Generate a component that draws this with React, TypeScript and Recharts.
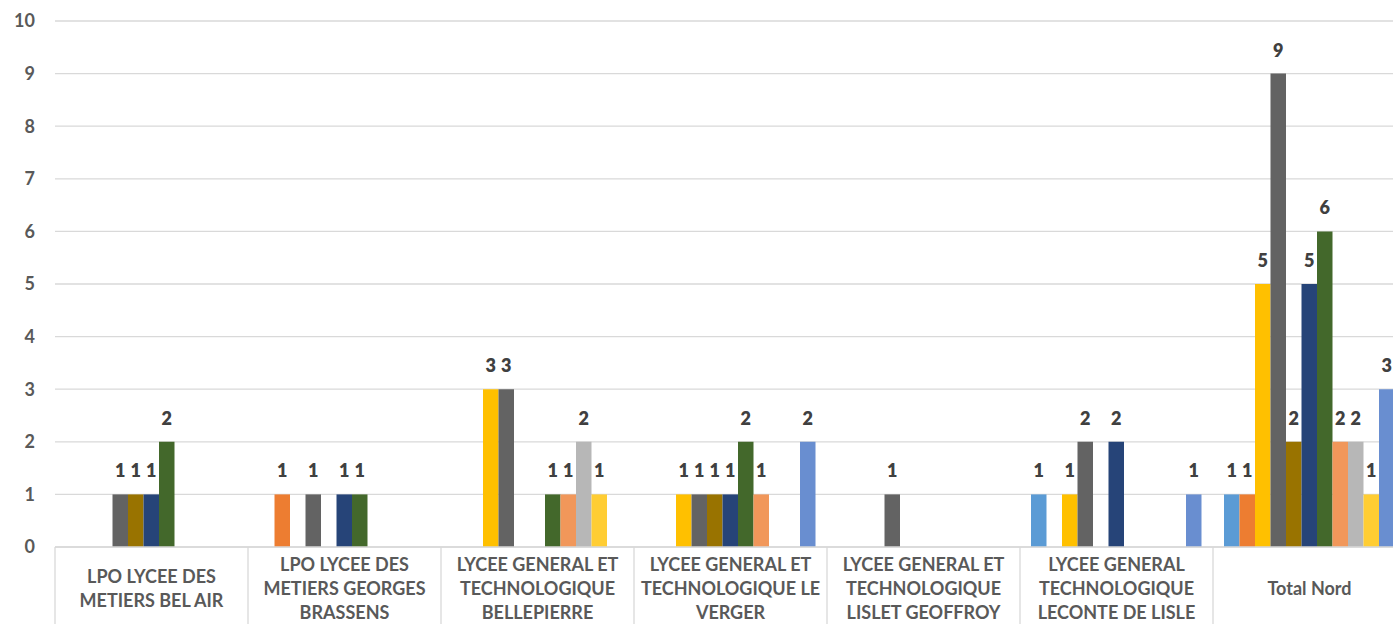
import { BarChart, Bar, XAxis, YAxis, CartesianGrid, LabelList } from 'recharts';

// categories (x axis), with the line breaks used in the picture
const categories = [
    'LPO LYCEE DES METIERS BEL AIR',
    'LPO LYCEE DES METIERS GEORGES BRASSENS',
    'LYCEE GENERAL ET TECHNOLOGIQUE BELLEPIERRE',
    'LYCEE GENERAL ET TECHNOLOGIQUE LE VERGER',
    'LYCEE GENERAL ET TECHNOLOGIQUE LISLET GEOFFROY',
    'LYCEE GENERAL TECHNOLOGIQUE LECONTE DE LISLE',
    'Total Nord',
];

const categoryLines = [
    ['LPO LYCEE DES', 'METIERS BEL AIR'],
    ['LPO LYCEE DES', 'METIERS GEORGES', 'BRASSENS'],
    ['LYCEE GENERAL ET', 'TECHNOLOGIQUE', 'BELLEPIERRE'],
    ['LYCEE GENERAL ET', 'TECHNOLOGIQUE LE', 'VERGER'],
    ['LYCEE GENERAL ET', 'TECHNOLOGIQUE', 'LISLET GEOFFROY'],
    ['LYCEE GENERAL', 'TECHNOLOGIQUE', 'LECONTE DE LISLE'],
    ['Total Nord'],
];

// one array per series, one value per category (null = empty cell)
const s1 = [null, null, null, null, null, 1, 1];
const s2 = [null, 1, null, null, null, null, 1];
const s3 = [null, null, 3, 1, null, 1, 5];
const s4 = [1, 1, 3, 1, 1, 2, 9];
const s5 = [1, null, null, 1, null, null, 2];
const s6 = [1, 1, null, 1, null, 2, 5];
const s7 = [2, 1, 1, 2, null, null, 6];
const s8 = [null, null, 1, 1, null, null, 2];
const s9 = [null, null, 2, null, null, null, 2];
const s10 = [null, null, 1, null, null, null, 1];
const s11 = [null, null, null, 2, null, 1, 3];

const yTicks = [0, 1, 2, 3, 4, 5, 6, 7, 8, 9, 10];

const seriesValues = [s1, s2, s3, s4, s5, s6, s7, s8, s9, s10, s11];
const COLORS = [
    '#5B9BD5', '#ED7D31', '#FFC000', '#636363', '#997300', '#264478',
    '#43682B', '#F1975A', '#B7B7B7', '#FFCD33', '#698ED0',
];

const data = categories.map((name, i) => {
    const row: any = { name, idx: i };
    seriesValues.forEach((vals, k) => { row[`s${k + 1}`] = vals[i]; });
    return row;
});

const FONT = 'Lato, "Open Sans", sans-serif';
const TEXT = '#595959';
const GRID = '#D9D9D9';

const CHART_W = 1410;
const CHART_H = 650;
const Y_W = 55;
const M_RIGHT = 4;
const BAND = (CHART_W - Y_W - M_RIGHT) / categories.length;

const CategoryTick = (props: any) => {
    const { x, y, payload, index } = props;
    const lines = categoryLines[payload.index ?? index] || [String(payload.value)];
    const left = x - BAND / 2;
    const right = x + BAND / 2;
    const mid = y + 42;
    return (
        <g>
            <line x1={left} y1={y} x2={left} y2={y + 120} stroke={GRID} strokeWidth={1.3} />
            {index === categories.length - 1 && (
                <line x1={right} y1={y} x2={right} y2={y + 120} stroke={GRID} strokeWidth={1.3} />
            )}
            {lines.map((ln, i) => (
                <text
                    key={i}
                    x={x}
                    y={mid + (i - (lines.length - 1) / 2) * 24}
                    dy="0.36em"
                    textAnchor="middle"
                    fill={TEXT}
                    fontFamily={FONT}
                    fontWeight={700}
                    fontSize={18}
                >
                    {ln}
                </text>
            ))}
        </g>
    );
};

const renderLabel = (props: any) => {
    const { x, y, width, value } = props;
    if (value === null || value === undefined) return null;
    return (
        <text
            x={Number(x) + Number(width) / 2}
            y={Number(y) - 17}
            textAnchor="middle"
            fill="#404040"
            fontFamily={FONT}
            fontWeight={800}
            fontSize={18}
        >
            {value}
        </text>
    );
};

export default function App() {
    return (
        <div style={{ position: 'absolute', left: 0, top: 0, width: 1393, height: 624, overflow: 'hidden', background: '#fff' }}>
            <BarChart
                width={CHART_W}
                height={CHART_H}
                data={data}
                margin={{ top: 21, right: M_RIGHT, left: 0, bottom: 0 }}
                barSize={15.5}
                barGap={0}
            >
                <CartesianGrid vertical={false} stroke={GRID} strokeWidth={1.3} />
                <XAxis
                    dataKey="name"
                    interval={0}
                    height={CHART_H - 547}
                    tickLine={false}
                    tickSize={0}
                    tickMargin={0}
                    axisLine={{ stroke: GRID, strokeWidth: 1.3 }}
                    tick={<CategoryTick />}
                />
                <YAxis
                    width={Y_W}
                    domain={[0, 10]}
                    ticks={yTicks}
                    interval={0}
                    axisLine={false}
                    tickLine={false}
                    tickSize={8}
                    tickMargin={12}
                    tick={{ fill: TEXT, fontFamily: FONT, fontWeight: 700, fontSize: 18 }}
                />
                {seriesValues.map((_, k) => (
                    <Bar key={k} dataKey={`s${k + 1}`} fill={COLORS[k]} isAnimationActive={false}>
                        <LabelList dataKey={`s${k + 1}`} content={renderLabel} />
                    </Bar>
                ))}
            </BarChart>
        </div>
    );
}
